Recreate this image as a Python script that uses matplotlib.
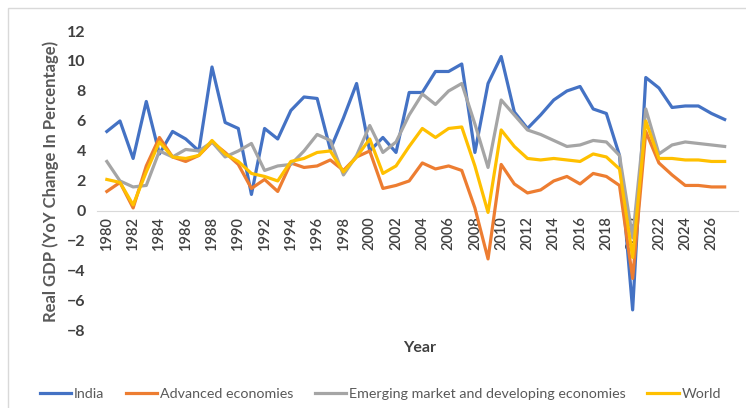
import numpy as np
import matplotlib.pyplot as plt
from matplotlib.patches import Rectangle

plt.rcParams['font.family'] = ['Lato', 'DejaVu Sans']

years = list(range(1980, 2028))

india = [5.3, 6.0, 3.5, 7.3, 3.8, 5.3, 4.8, 4.0, 9.6, 5.9,
         5.5, 1.1, 5.5, 4.8, 6.7, 7.6, 7.5, 4.1, 6.2, 8.5,
         4.0, 4.9, 3.9, 7.9, 7.9, 9.3, 9.3, 9.8, 3.9, 8.5,
         10.3, 6.6, 5.5, 6.4, 7.4, 8.0, 8.3, 6.8, 6.5, 3.7,
         -6.6, 8.9, 8.2, 6.9, 7.0, 7.0, 6.5, 6.1]

advanced = [1.3, 1.9, 0.2, 3.0, 4.9, 3.6, 3.3, 3.7, 4.6, 3.9,
            3.1, 1.5, 2.1, 1.3, 3.2, 2.9, 3.0, 3.4, 2.7, 3.6,
            4.0, 1.5, 1.7, 2.0, 3.2, 2.8, 3.0, 2.7, 0.2, -3.2,
            3.1, 1.8, 1.2, 1.4, 2.0, 2.3, 1.8, 2.5, 2.3, 1.7,
            -4.5, 5.3, 3.2, 2.4, 1.7, 1.7, 1.6, 1.6]

emerging = [3.3, 2.0, 1.6, 1.7, 4.0, 3.6, 4.1, 4.0, 4.6, 3.6,
            4.0, 4.5, 2.7, 3.0, 3.1, 4.0, 5.1, 4.7, 2.4, 3.7,
            5.7, 3.9, 4.6, 6.4, 7.8, 7.1, 8.0, 8.5, 5.8, 2.9,
            7.4, 6.4, 5.4, 5.1, 4.7, 4.3, 4.4, 4.7, 4.6, 3.7,
            -1.8, 6.8, 3.8, 4.4, 4.6, 4.5, 4.4, 4.3]

world = [2.1, 1.9, 0.4, 2.6, 4.6, 3.6, 3.5, 3.7, 4.7, 3.8,
         3.3, 2.5, 2.3, 2.0, 3.3, 3.5, 3.9, 4.0, 2.6, 3.6,
         4.8, 2.5, 3.0, 4.3, 5.5, 4.9, 5.5, 5.6, 3.0, -0.1,
         5.4, 4.3, 3.5, 3.4, 3.5, 3.4, 3.3, 3.8, 3.6, 2.8,
         -3.1, 6.0, 3.5, 3.5, 3.4, 3.4, 3.3, 3.3]

series = [('India', india, '#4472C4'),
          ('Advanced economies', advanced, '#ED7D31'),
          ('Emerging market and developing economies', emerging, '#A5A5A5'),
          ('World', world, '#FFC000')]

fig = plt.figure(figsize=(7.46, 4.08), dpi=100)
fig.patches.append(Rectangle((0.011, -0.01), 1.1, 0.99, transform=fig.transFigure,
                             fill=False, edgecolor='#d9d9d9', linewidth=1))
ax = fig.add_axes([0.130, 0.189, 0.859, 0.735])

for name, vals, col in series:
    ax.plot(years, vals, color=col, linewidth=2.3, label=name)

ax.set_xlim(1979.25, 2028)
ax.set_ylim(-8, 12)
ax.set_yticks(np.arange(-8, 13, 2))
ax.set_xticks(years[::2])
ax.set_xticklabels([str(y) for y in years[::2]])

for s in ['top', 'right', 'left']:
    ax.spines[s].set_visible(False)
ax.spines['bottom'].set_position(('data', 0))
ax.spines['bottom'].set_color('#d9d9d9')
ax.spines['bottom'].set_zorder(0)
ax.tick_params(axis='x', length=0, pad=4, labelsize=10.5, labelcolor='#404040',
               labelrotation=90)
ax.tick_params(axis='y', length=0, pad=8, labelsize=11.5, labelcolor='#404040')
for lab in ax.get_yticklabels():
    lab.set_fontweight('bold')
for lab in ax.get_xticklabels():
    lab.set_fontweight('semibold')

ax.set_ylabel('Real GDP (YoY Change In Percentage)', fontsize=12, fontweight='bold',
              color='#595959', labelpad=6)
fig.text(0.563, 0.147, 'Year', ha='center', va='center', fontsize=11.5,
         fontweight='bold', color='#404040')

fig.legend(loc='center', bbox_to_anchor=(0.51, 0.034), ncol=4, frameon=False,
           fontsize=10.3, handlelength=2.2, handletextpad=0.2, columnspacing=1.5,
           labelcolor='#595959')

plt.savefig('out.png', dpi=100)
